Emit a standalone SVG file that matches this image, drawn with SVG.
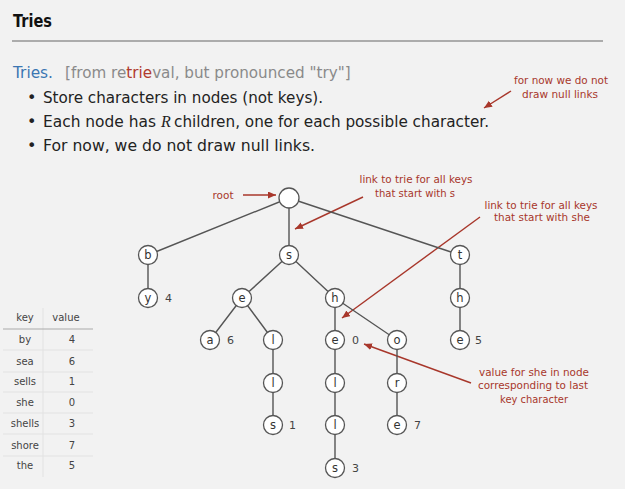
<svg xmlns="http://www.w3.org/2000/svg" width="625" height="489" viewBox="0 0 625 489">
<defs>
<marker id="ah" markerUnits="userSpaceOnUse" markerWidth="10" markerHeight="8" refX="8" refY="3.5" orient="auto">
<path d="M0,0 L8,3.5 L0,7 Z" fill="#a8372b"/>
</marker>
</defs>
<style>
.t{font-family:"DejaVu Sans","Liberation Sans",sans-serif}
.ttl{font-size:17px;fill:#111}
.body{font-size:16px;fill:#222}
.red{font-size:11px;fill:#a8372b;text-anchor:middle}
.ann{stroke:#a8372b;stroke-width:1.4;fill:none;marker-end:url(#ah)}
.edge{stroke:#555;stroke-width:1.4;fill:none}
.node circle{fill:#fff;stroke:#555;stroke-width:1.3}
.node text{font-size:11.5px;fill:#333;text-anchor:middle}
.val{font-size:11px;fill:#444}
.tab{font-size:10px;fill:#444;text-anchor:middle}
</style>
<rect width="625" height="489" fill="#f2f2f2"/>
<text class="t ttl" x="13" y="27" font-weight="bold" textLength="39" lengthAdjust="spacingAndGlyphs">Tries</text>
<line x1="12" y1="41" x2="603" y2="41" stroke="#666" stroke-width="1.2"/>
<text class="t body" x="13" y="78" style="fill:#3b76b2" textLength="40" lengthAdjust="spacingAndGlyphs">Tries.</text>
<text class="t" x="65" y="78" style="fill:#8a8a8a;font-size:15.2px">[from re<tspan style="fill:#b03a2e">trie</tspan>val, but pronounced "try"]</text>
<text class="t body" x="27" y="103">•</text>
<text class="t body" x="43" y="103" textLength="280" lengthAdjust="spacingAndGlyphs">Store characters in nodes (not keys).</text>
<text class="t body" x="27" y="127">•</text>
<text class="t body" x="43" y="127" textLength="113" lengthAdjust="spacingAndGlyphs">Each node has</text>
<text class="t body" x="161" y="127" font-style="italic" style="font-family:'Liberation Serif',serif">R</text>
<text class="t body" x="174" y="127" textLength="315" lengthAdjust="spacingAndGlyphs">children, one for each possible character.</text>
<text class="t body" x="27" y="151">•</text>
<text class="t body" x="43" y="151" textLength="272" lengthAdjust="spacingAndGlyphs">For now, we do not draw null links.</text>

<g id="annotations">
<text class="t red" x="561" y="84" textLength="94" lengthAdjust="spacingAndGlyphs">for now we do not</text>
<text class="t red" x="560" y="98" textLength="76" lengthAdjust="spacingAndGlyphs">draw null links</text>
<path class="ann" d="M511,91 L484,108"/>
<text class="t red" x="223" y="199" textLength="21" lengthAdjust="spacingAndGlyphs">root</text>
<path class="ann" d="M243,195 L276,195"/>
<text class="t red" x="416" y="183" textLength="113" lengthAdjust="spacingAndGlyphs">link to trie for all keys</text>
<text class="t red" x="415" y="197" textLength="80" lengthAdjust="spacingAndGlyphs">that start with s</text>
<path class="ann" d="M363,197 L295,229"/>
<text class="t red" x="541" y="209" textLength="113" lengthAdjust="spacingAndGlyphs">link to trie for all keys</text>
<text class="t red" x="542" y="221" textLength="96" lengthAdjust="spacingAndGlyphs">that start with she</text>
<path class="ann" d="M480,217 L342,318"/>
<text class="t red" x="534" y="376" textLength="110" lengthAdjust="spacingAndGlyphs">value for she in node</text>
<text class="t red" x="533" y="389" textLength="110" lengthAdjust="spacingAndGlyphs">corresponding to last</text>
<text class="t red" x="534" y="403" textLength="68" lengthAdjust="spacingAndGlyphs">key character</text>
<path class="ann" d="M471,383 L364,344"/>
</g>

<g id="connectors">
<path class="edge" d="M289,198 L148,255 M289,198 L289,255 M289,198 L460,255"/>
<path class="edge" d="M148,255 L148,298"/>
<path class="edge" d="M289,255 L242,298 M289,255 L335,298"/>
<path class="edge" d="M460,255 L460,298 L460,340"/>
<path class="edge" d="M242,298 L210,340 M242,298 L273,340"/>
<path class="edge" d="M273,340 L273,383 L273,425"/>
<path class="edge" d="M335,298 L335,340 L335,383 L335,425 L335,468"/>
<path class="edge" d="M335,298 L397,340 L397,383 L397,425"/>
</g>

<g id="n-root" class="node"><circle cx="289" cy="198" r="10"/></g>
<g id="n-b" class="node"><circle cx="148" cy="255" r="9.5"/><text class="t" x="148" y="259">b</text></g>
<g id="n-s" class="node"><circle cx="289" cy="255" r="9.5"/><text class="t" x="289" y="259">s</text></g>
<g id="n-t" class="node"><circle cx="460" cy="255" r="9.5"/><text class="t" x="460" y="259">t</text></g>
<g id="n-by" class="node"><circle cx="148" cy="298" r="9.5"/><text class="t" x="148" y="302">y</text></g>
<g id="n-se" class="node"><circle cx="242" cy="298" r="9.5"/><text class="t" x="242" y="302">e</text></g>
<g id="n-sh" class="node"><circle cx="335" cy="298" r="9.5"/><text class="t" x="335" y="302">h</text></g>
<g id="n-th" class="node"><circle cx="460" cy="298" r="9.5"/><text class="t" x="460" y="302">h</text></g>
<g id="n-sea" class="node"><circle cx="210" cy="340" r="9.5"/><text class="t" x="210" y="344">a</text></g>
<g id="n-sel" class="node"><circle cx="273" cy="340" r="9.5"/><text class="t" x="273" y="344">l</text></g>
<g id="n-she" class="node"><circle cx="335" cy="340" r="9.5"/><text class="t" x="335" y="344">e</text></g>
<g id="n-sho" class="node"><circle cx="397" cy="340" r="9.5"/><text class="t" x="397" y="344">o</text></g>
<g id="n-the" class="node"><circle cx="460" cy="340" r="9.5"/><text class="t" x="460" y="344">e</text></g>
<g id="n-sell" class="node"><circle cx="273" cy="383" r="9.5"/><text class="t" x="273" y="387">l</text></g>
<g id="n-shel" class="node"><circle cx="335" cy="383" r="9.5"/><text class="t" x="335" y="387">l</text></g>
<g id="n-shor" class="node"><circle cx="397" cy="383" r="9.5"/><text class="t" x="397" y="387">r</text></g>
<g id="n-sells" class="node"><circle cx="273" cy="425" r="9.5"/><text class="t" x="273" y="429">s</text></g>
<g id="n-shell" class="node"><circle cx="335" cy="425" r="9.5"/><text class="t" x="335" y="429">l</text></g>
<g id="n-shore" class="node"><circle cx="397" cy="425" r="9.5"/><text class="t" x="397" y="429">e</text></g>
<g id="n-shells" class="node"><circle cx="335" cy="468" r="9.5"/><text class="t" x="335" y="472">s</text></g>

<g id="values">
<text class="t val" x="165" y="302">4</text>
<text class="t val" x="227" y="344">6</text>
<text class="t val" x="352" y="344">0</text>
<text class="t val" x="475" y="344">5</text>
<text class="t val" x="289" y="429">1</text>
<text class="t val" x="414" y="429">7</text>
<text class="t val" x="352" y="472">3</text>
</g>

<g id="table">
<line x1="43" y1="308" x2="43" y2="477" stroke="#e2e2e2" stroke-width="1"/>
<line x1="3" y1="329" x2="93" y2="329" stroke="#aaa" stroke-width="1"/>
<g stroke="#e2e2e2" stroke-width="1">
<line x1="3" y1="350" x2="93" y2="350"/>
<line x1="3" y1="372" x2="93" y2="372"/>
<line x1="3" y1="392" x2="93" y2="392"/>
<line x1="3" y1="413" x2="93" y2="413"/>
<line x1="3" y1="434" x2="93" y2="434"/>
<line x1="3" y1="456" x2="93" y2="456"/>
</g>
<text class="t tab" x="25" y="321">key</text>
<text class="t tab" x="66" y="321">value</text>
<text class="t tab" x="25" y="343">by</text><text class="t tab" x="72" y="343">4</text>
<text class="t tab" x="25" y="365">sea</text><text class="t tab" x="72" y="365">6</text>
<text class="t tab" x="25" y="385">sells</text><text class="t tab" x="72" y="385">1</text>
<text class="t tab" x="25" y="406">she</text><text class="t tab" x="72" y="406">0</text>
<text class="t tab" x="25" y="427">shells</text><text class="t tab" x="72" y="427">3</text>
<text class="t tab" x="25" y="449">shore</text><text class="t tab" x="72" y="449">7</text>
<text class="t tab" x="25" y="469">the</text><text class="t tab" x="72" y="469">5</text>
</g>
</svg>
